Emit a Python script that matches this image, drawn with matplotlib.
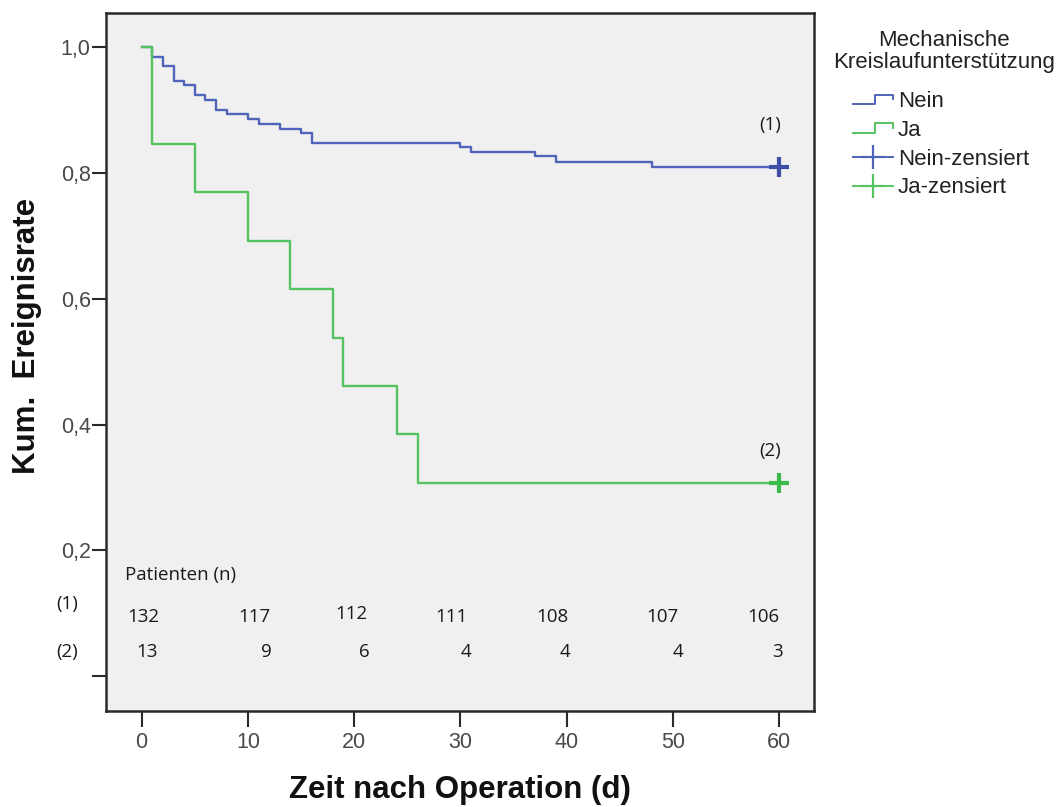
import matplotlib
matplotlib.use("Agg")
import matplotlib.pyplot as plt
from matplotlib.lines import Line2D
from matplotlib.legend_handler import HandlerBase

# Kaplan-Meier steps (days after surgery, cumulative rate)
nein_times = [0, 1, 2, 3, 4, 5, 6, 7, 8, 10, 11, 13, 15, 16, 30, 31, 37, 39, 48, 60]
nein_values = [1.0, 0.984, 0.969, 0.946, 0.940, 0.923, 0.916, 0.900, 0.894, 0.886,
               0.878, 0.870, 0.863, 0.847, 0.841, 0.833, 0.826, 0.818, 0.810, 0.810]
ja_times = [0, 1, 5, 10, 14, 18, 19, 24, 26, 60]
ja_values = [1.0, 0.846, 0.769, 0.692, 0.615, 0.538, 0.462, 0.385, 0.308, 0.308]

# censored at end of follow-up
censor_time = 60
nein_censor = 0.810
ja_censor = 0.308

# patients at risk
risk_times = [0, 10, 20, 30, 40, 50, 60]
risk_nein = [132, 117, 112, 111, 108, 107, 106]
risk_ja = [13, 9, 6, 4, 4, 4, 3]

x_ticks = [0, 10, 20, 30, 40, 50, 60]
y_ticks = [0.0, 0.2, 0.4, 0.6, 0.8, 1.0]
y_tick_labels = ["", "0,2", "0,4", "0,6", "0,8", "1,0"]

legend_title = "Mechanische\nKreislaufunterstützung"
legend_labels = ["Nein", "Ja", "Nein-zensiert", "Ja-zensiert"]

BLUE = "#5064b9"
BLUE_M = "#3c4ea6"
GREEN = "#55c35f"
GREEN_M = "#3dbb49"

plt.rcParams["font.family"] = ["Liberation Sans", "DejaVu Sans"]

fig = plt.figure(figsize=(10.63, 8.07), dpi=100)
fig.patch.set_facecolor("white")
ax = fig.add_axes([0.0997, 0.1190, 0.6661, 0.8649])
ax.set_facecolor("#f0f0f0")

ax.step(nein_times, nein_values, where="post", color=BLUE, lw=1.7, zorder=3)
ax.step(ja_times, ja_values, where="post", color=GREEN, lw=1.7, zorder=4)
ax.plot([censor_time], [nein_censor], marker="+", color=BLUE_M, ms=14, mew=3,
        ls="none", zorder=5)
ax.plot([censor_time], [ja_censor], marker="+", color=GREEN_M, ms=14, mew=3,
        ls="none", zorder=5)

ax.set_xlim(-3.36, 63.3)
ax.set_ylim(-0.055, 1.054)
ax.set_xticks(x_ticks)
ax.set_xticklabels([str(t) for t in x_ticks])
ax.set_yticks(y_ticks)
ax.set_yticklabels(y_tick_labels)

for s in ax.spines.values():
    s.set_color("#2a2a2a")
    s.set_linewidth(1.8)
ax.tick_params(axis="y", length=10, width=1.5, color="#2a2a2a", pad=1,
               labelsize=15.5, labelcolor="#4a4a4a")
ax.tick_params(axis="x", length=11.5, width=1.5, color="#2a2a2a", pad=4,
               labelsize=15.5, labelcolor="#4a4a4a")

fig.text(0.0254, 0.5836, "Kum.  Ereignisrate", rotation=90, ha="center",
         va="center", fontsize=22.5, fontweight="bold", color="#111111")
fig.text(0.4327, 0.021, "Zeit nach Operation (d)", ha="center", va="center",
         fontsize=22.5, fontweight="bold", color="#111111")

# group markers next to the curves
small = dict(family=["Open Sans", "DejaVu Sans"], fontsize=13.5, color="#1a1a1a")
ax.text(59.2, 0.876, "(1)", ha="center", va="center", **small)
ax.text(59.2, 0.358, "(2)", ha="center", va="center", **small)

# number-at-risk table
ax.text(-1.57, 0.161, "Patienten (n)", ha="left", va="center", **small)
row1_x = [0.12, 10.6, 19.7, 29.2, 38.7, 49.0, 58.5]
row1_dy = [0, 0, 0.005, 0, 0, 0, 0]
row2_x = [0.5, 11.7, 21.0, 30.5, 39.9, 50.5, 59.9]
for xp, dy, n in zip(row1_x, row1_dy, risk_nein):
    ax.text(xp, 0.0945 + dy, str(n), ha="center", va="center", **small)
for xp, n in zip(row2_x, risk_ja):
    ax.text(xp, 0.039, str(n), ha="center", va="center", **small)
ax.text(-7.0, 0.115, "(1)", ha="center", va="center", clip_on=False, **small)
ax.text(-7.0, 0.039, "(2)", ha="center", va="center", clip_on=False, **small)


class StepHandler(HandlerBase):
    def create_artists(self, legend, orig_handle, xdescent, ydescent, width,
                       height, fontsize, trans):
        x0 = -xdescent
        x1 = x0 + width
        xm = x0 + 0.55 * width
        ylo = -ydescent + 0.2 * height
        yhi = -ydescent + 0.8 * height
        ln = Line2D([x0, xm, xm, x1, x1], [ylo, ylo, yhi, yhi, ylo + 0.3 * height],
                    color=orig_handle.get_color(), lw=1.4)
        ln.set_transform(trans)
        return [ln]


h_nein = Line2D([], [], color=BLUE)
h_ja = Line2D([], [], color=GREEN)
h_nein_c = Line2D([], [], color=BLUE, lw=1.4, marker="+", ms=17, mew=1.6)
h_ja_c = Line2D([], [], color=GREEN, lw=1.4, marker="+", ms=17, mew=1.6)

fig.text(0.888, 0.9362, legend_title, ha="center", va="center", fontsize=16,
         linespacing=1.05, color="#222222", multialignment="center")

leg = fig.legend([h_nein, h_ja, h_nein_c, h_ja_c], legend_labels,
                 loc="upper left", bbox_to_anchor=(0.8024, 0.8872),
                 frameon=False, fontsize=16, borderpad=0, borderaxespad=0,
                 handlelength=1.8, handletextpad=0.22, labelspacing=0.35,
                 handler_map={h_nein: StepHandler(), h_ja: StepHandler()})
for t in leg.get_texts():
    t.set_color("#222222")

fig.savefig("out.png", dpi=100, facecolor="white")
